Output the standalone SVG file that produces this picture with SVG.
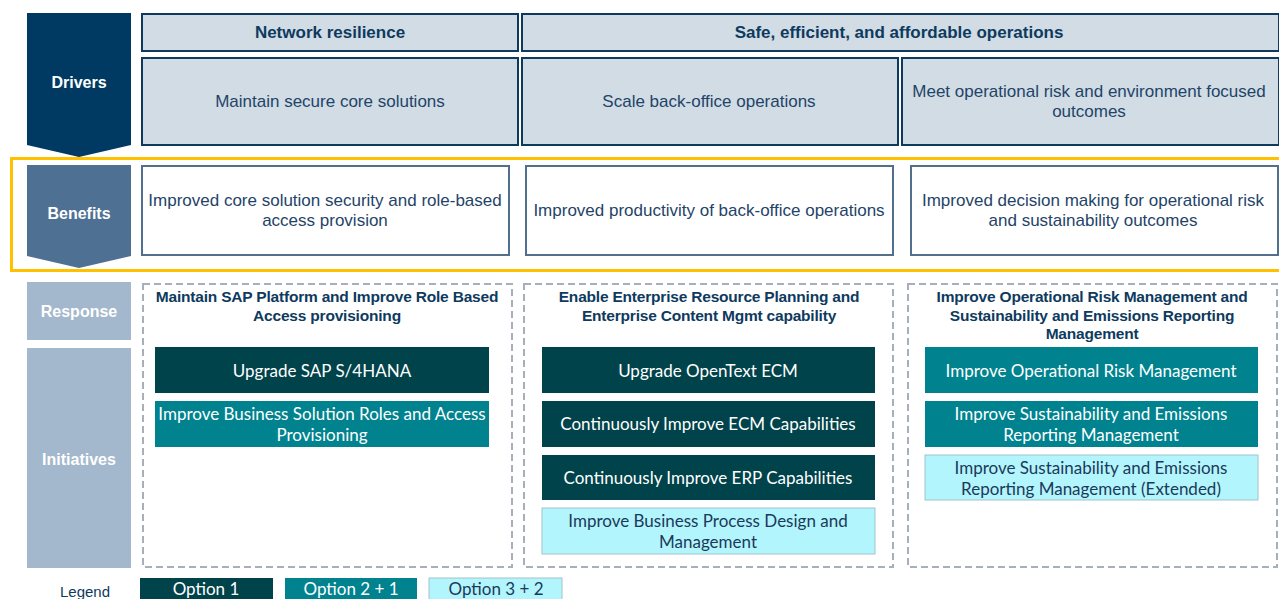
<svg xmlns="http://www.w3.org/2000/svg" width="1279" height="599" viewBox="0 0 1279 599">
<style>
.drv{fill:#D1DCE5;stroke:#0E3A5E;stroke-width:2}
.ben{fill:#FFFFFF;stroke:#51708E;stroke-width:2}
.hdr{font-family:"Liberation Sans",Arial,sans-serif;font-weight:bold;font-size:17px;fill:#0E3A5E;text-anchor:middle}
.body{font-family:"Liberation Sans",Arial,sans-serif;font-size:17px;fill:#1F4468;text-anchor:middle}
.lbl{font-family:"Liberation Sans",Arial,sans-serif;font-weight:bold;font-size:16px;fill:#FFFFFF;text-anchor:middle}
.cont{fill:none;stroke:#A7B0BA;stroke-width:2;stroke-dasharray:7 4}
.ttl{font-family:"Liberation Sans",Arial,sans-serif;font-weight:bold;font-size:15.5px;fill:#0E3A5E;text-anchor:middle;letter-spacing:-0.2px}
.o1{fill:#00434A}
.o2{fill:#00838F}
.o3{fill:#B3F5FC;stroke:#9FC4CC;stroke-width:1}
.it{font-family:Lato,"Open Sans",sans-serif;font-size:17px;text-anchor:middle}
.tw{fill:#FFFFFF}
.td{fill:#1B3A5A}
</style>

<g id="drivers-label">
<polygon points="27,13 131,13 131,145 79,157 27,145" fill="#003A63"/>
<text class="lbl" x="79" y="88">Drivers</text>
</g>
<g id="driver-network-resilience">
<rect class="drv" x="142" y="14" width="376" height="37"/>
<text class="hdr" x="330" y="38">Network resilience</text>
</g>
<g id="driver-safe-operations">
<rect class="drv" x="522" y="14" width="757" height="37"/>
<text class="hdr" x="899" y="38">Safe, efficient, and affordable operations</text>
</g>
<g id="driver-maintain-secure">
<rect class="drv" x="142" y="58" width="376" height="87"/>
<text class="body" x="330" y="107">Maintain secure core solutions</text>
</g>
<g id="driver-scale-back-office">
<rect class="drv" x="522" y="58" width="376" height="87"/>
<text class="body" x="709" y="107">Scale back-office operations</text>
</g>
<g id="driver-meet-risk">
<rect class="drv" x="902" y="58" width="377" height="87"/>
<text class="body" x="1089" y="97">Meet operational risk and environment focused</text>
<text class="body" x="1089" y="117">outcomes</text>
</g>

<g id="benefits-frame">
<rect x="11.5" y="158.5" width="1270" height="112" fill="none" stroke="#FFC000" stroke-width="3"/>
</g>
<g id="benefits-label">
<polygon points="27,165 131,165 131,256 79,268 27,256" fill="#4E7092"/>
<text class="lbl" x="79" y="219">Benefits</text>
</g>
<g id="benefit-security">
<rect class="ben" x="142" y="166" width="367" height="89"/>
<text class="body" x="325" y="206">Improved core solution security and role-based</text>
<text class="body" x="325" y="226">access provision</text>
</g>
<g id="benefit-productivity">
<rect class="ben" x="526" y="166" width="367" height="89"/>
<text class="body" x="709" y="216">Improved productivity of back-office operations</text>
</g>
<g id="benefit-decision">
<rect class="ben" x="911" y="166" width="367" height="89"/>
<text class="body" x="1093" y="206">Improved decision making for operational risk</text>
<text class="body" x="1093" y="226">and sustainability outcomes</text>
</g>

<g id="response-label">
<rect x="27" y="282" width="104" height="58" fill="#A3B8CC"/>
<text class="lbl" x="79" y="317">Response</text>
</g>
<g id="initiatives-label">
<rect x="27" y="348" width="104" height="220" fill="#A3B8CC"/>
<text class="lbl" x="79" y="465">Initiatives</text>
</g>

<g id="response-sap">
<rect class="cont" x="143" y="284" width="369" height="283"/>
<text class="ttl" x="327" y="302">Maintain SAP Platform and Improve Role Based</text>
<text class="ttl" x="327" y="321">Access provisioning</text>
</g>
<g id="response-erp-ecm">
<rect class="cont" x="524" y="284" width="369" height="283"/>
<text class="ttl" x="709" y="302">Enable Enterprise Resource Planning and</text>
<text class="ttl" x="709" y="321">Enterprise Content Mgmt capability</text>
</g>
<g id="response-risk">
<rect class="cont" x="908" y="284" width="369" height="283"/>
<text class="ttl" x="1092" y="302">Improve Operational Risk Management and</text>
<text class="ttl" x="1092" y="321">Sustainability and Emissions Reporting</text>
<text class="ttl" x="1092" y="339">Management</text>
</g>

<g id="init-upgrade-sap">
<rect class="o1" x="155" y="347" width="334" height="46"/>
<text class="it tw" x="322" y="377">Upgrade SAP S/4HANA</text>
</g>
<g id="init-roles-access">
<rect class="o2" x="155" y="401" width="334" height="46"/>
<text class="it tw" x="322" y="420">Improve Business Solution Roles and Access</text>
<text class="it tw" x="322" y="441">Provisioning</text>
</g>

<g id="init-opentext">
<rect class="o1" x="542" y="347" width="333" height="46"/>
<text class="it tw" x="708" y="377">Upgrade OpenText ECM</text>
</g>
<g id="init-ecm">
<rect class="o1" x="542" y="401" width="333" height="46"/>
<text class="it tw" x="708" y="430">Continuously Improve ECM Capabilities</text>
</g>
<g id="init-erp">
<rect class="o1" x="542" y="455" width="333" height="45"/>
<text class="it tw" x="708" y="484">Continuously Improve ERP Capabilities</text>
</g>
<g id="init-bpd">
<rect class="o3" x="542" y="508" width="333" height="46"/>
<text class="it td" x="708" y="527">Improve Business Process Design and</text>
<text class="it td" x="708" y="548">Management</text>
</g>

<g id="init-orm">
<rect class="o2" x="925" y="347" width="333" height="46"/>
<text class="it tw" x="1091" y="377">Improve Operational Risk Management</text>
</g>
<g id="init-sustain">
<rect class="o2" x="925" y="401" width="333" height="46"/>
<text class="it tw" x="1091" y="420">Improve Sustainability and Emissions</text>
<text class="it tw" x="1091" y="441">Reporting Management</text>
</g>
<g id="init-sustain-ext">
<rect class="o3" x="925" y="455" width="333" height="45"/>
<text class="it td" x="1091" y="474">Improve Sustainability and Emissions</text>
<text class="it td" x="1091" y="495">Reporting Management (Extended)</text>
</g>

<g id="legend">
<text x="85" y="597" font-family="'Liberation Sans',Arial,sans-serif" font-size="15" fill="#0E3A5E" text-anchor="middle">Legend</text>
<rect class="o1" x="140" y="578" width="133" height="26"/>
<text class="it tw" x="206" y="595">Option 1</text>
<rect class="o2" x="285" y="578" width="132" height="26"/>
<text class="it tw" x="351" y="595">Option 2 + 1</text>
<rect class="o3" x="429" y="578" width="133" height="26"/>
<text class="it td" x="496" y="595">Option 3 + 2</text>
</g>
<g id="connectors"/>
</svg>
